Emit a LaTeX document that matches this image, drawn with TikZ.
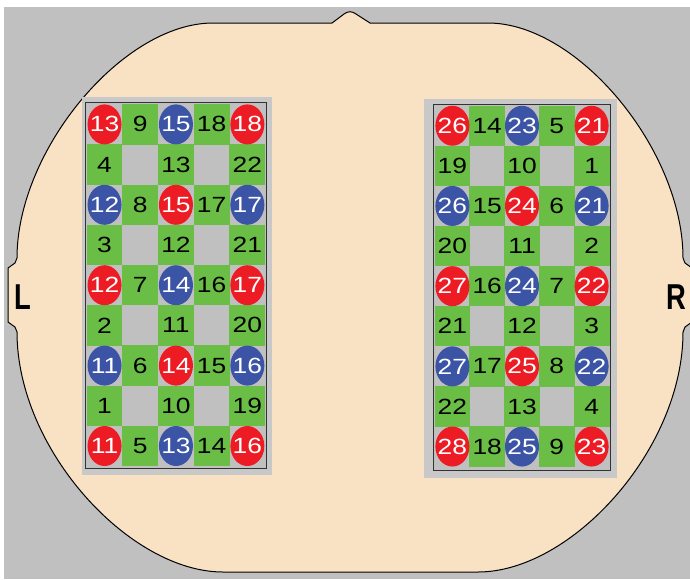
\documentclass[tikz,border=0pt]{standalone}
\usepackage{fontspec}
\setmainfont{Liberation Sans}
\newfontfamily\numfont{Liberation Sans}[FakeStretch=1.2]
\newfontfamily\earfont{Liberation Sans}[FakeStretch=0.76]
\usetikzlibrary{shapes.geometric}
\usepackage{xcolor}
\definecolor{headpeach}{HTML}{F9E1C4}
\definecolor{bggray}{HTML}{C0C0C0}
\definecolor{traygray}{HTML}{C8C8C8}
\definecolor{cellgreen}{HTML}{6BBE45}
\definecolor{ballred}{HTML}{ED1C24}
\definecolor{ballblue}{HTML}{3B54A5}
\tikzset{
  backdrop/.style={fill=bggray},
  head/.style={draw=black, fill=headpeach, line width=1pt},
  tray/.style={fill=traygray},
  tray inner/.style={draw=black!80, fill=bggray, line width=1pt},
  side label/.style={font=\earfont\bfseries\fontsize{36}{36}\selectfont, inner sep=0pt},
  base cell/.style={inner sep=0pt, font=\numfont\fontsize{22}{22}\selectfont},
  cell green/.style={base cell, minimum width=35.8pt, minimum height=40.3pt, fill=cellgreen, text=black},
  base ball/.style={base cell, ellipse, inner xsep=-4pt, minimum width=34pt, minimum height=40pt, text=white},
  ball red/.style={base ball, fill=ballred},
  ball blue/.style={base ball, fill=ballblue}
}

\begin{document}
\begin{tikzpicture}[x=1pt, y=-1pt]

  \useasboundingbox (0,0) rectangle (690,579);
  \fill[backdrop] (4,7) rectangle (690,579);

  % =================================================================================
  % HEAD OUTLINE (nose on top, ears left and right)
  % =================================================================================

  \draw[head] (213,23) -- (332,23) -- (344,14) .. controls (348,11) and (352,11) .. (356,14) -- (370,23)
    -- (488,23) .. controls (578,23) and (683,150) .. (683,258) -- (685,263) -- (692,268)
    -- (692,322) -- (685,327) -- (683,332) .. controls (683,450) and (571,572) .. (478,572)
    -- (223,572) .. controls (130,572) and (17,450) .. (17,332) -- (15,327) -- (8,322)
    -- (8,268) -- (15,263) -- (17,258) .. controls (17,150) and (123,23) .. (213,23) -- cycle;

  \node[side label] (ear-L) at (22.5,297) {L};
  \node[side label] (ear-R) at (676,297) {R};

  % =================================================================================
  % TRAYS
  % =================================================================================

  \fill[tray] (82,97) rectangle (272,475);
  \draw[tray inner] (85.5,102) rectangle (266.5,468);

  \fill[tray] (424,99) rectangle (617,478);
  \draw[tray inner] (433,104) rectangle (610.5,470.5);

  % =================================================================================
  % LEFT TRAY (columns 0..4, rows 0..8)
  % =================================================================================

  \begin{scope}[shift={(104.55,124.4)}, x=35.7pt, y=-40.2pt]
    % --- green squares ---
    \node[cell green] (L-1-2) at (1,0) {9};
    \node[cell green] (L-1-4) at (3,0) {18};
    \node[cell green] (L-2-1) at (0,1) {4};
    \node[cell green] (L-2-3) at (2,1) {13};
    \node[cell green] (L-2-5) at (4,1) {22};
    \node[cell green] (L-3-2) at (1,2) {8};
    \node[cell green] (L-3-4) at (3,2) {17};
    \node[cell green] (L-4-1) at (0,3) {3};
    \node[cell green] (L-4-3) at (2,3) {12};
    \node[cell green] (L-4-5) at (4,3) {21};
    \node[cell green] (L-5-2) at (1,4) {7};
    \node[cell green] (L-5-4) at (3,4) {16};
    \node[cell green] (L-6-1) at (0,5) {2};
    \node[cell green] (L-6-3) at (2,5) {11};
    \node[cell green] (L-6-5) at (4,5) {20};
    \node[cell green] (L-7-2) at (1,6) {6};
    \node[cell green] (L-7-4) at (3,6) {15};
    \node[cell green] (L-8-1) at (0,7) {1};
    \node[cell green] (L-8-3) at (2,7) {10};
    \node[cell green] (L-8-5) at (4,7) {19};
    \node[cell green] (L-9-2) at (1,8) {5};
    \node[cell green] (L-9-4) at (3,8) {14};

    % --- balls ---
    \node[ball red]  (L-1-1) at (0,0) {13};
    \node[ball blue] (L-1-3) at (2,0) {15};
    \node[ball red]  (L-1-5) at (4,0) {18};
    \node[ball blue] (L-3-1) at (0,2) {12};
    \node[ball red]  (L-3-3) at (2,2) {15};
    \node[ball blue] (L-3-5) at (4,2) {17};
    \node[ball red]  (L-5-1) at (0,4) {12};
    \node[ball blue] (L-5-3) at (2,4) {14};
    \node[ball red]  (L-5-5) at (4,4) {17};
    \node[ball blue] (L-7-1) at (0,6) {11};
    \node[ball red]  (L-7-3) at (2,6) {14};
    \node[ball blue] (L-7-5) at (4,6) {16};
    \node[ball red]  (L-9-1) at (0,8) {11};
    \node[ball blue] (L-9-3) at (2,8) {13};
    \node[ball red]  (L-9-5) at (4,8) {16};
  \end{scope}

  % =================================================================================
  % RIGHT TRAY (columns 0..4, rows 0..8)
  % =================================================================================

  \begin{scope}[shift={(452.4,125.75)}, x=34.8pt, y=-40.1pt]
    % --- green squares ---
    \node[cell green] (R-1-2) at (1,0) {14};
    \node[cell green] (R-1-4) at (3,0) {5};
    \node[cell green] (R-2-1) at (0,1) {19};
    \node[cell green] (R-2-3) at (2,1) {10};
    \node[cell green] (R-2-5) at (4,1) {1};
    \node[cell green] (R-3-2) at (1,2) {15};
    \node[cell green] (R-3-4) at (3,2) {6};
    \node[cell green] (R-4-1) at (0,3) {20};
    \node[cell green] (R-4-3) at (2,3) {11};
    \node[cell green] (R-4-5) at (4,3) {2};
    \node[cell green] (R-5-2) at (1,4) {16};
    \node[cell green] (R-5-4) at (3,4) {7};
    \node[cell green] (R-6-1) at (0,5) {21};
    \node[cell green] (R-6-3) at (2,5) {12};
    \node[cell green] (R-6-5) at (4,5) {3};
    \node[cell green] (R-7-2) at (1,6) {17};
    \node[cell green] (R-7-4) at (3,6) {8};
    \node[cell green] (R-8-1) at (0,7) {22};
    \node[cell green] (R-8-3) at (2,7) {13};
    \node[cell green] (R-8-5) at (4,7) {4};
    \node[cell green] (R-9-2) at (1,8) {18};
    \node[cell green] (R-9-4) at (3,8) {9};

    % --- balls ---
    \node[ball red]  (R-1-1) at (0,0) {26};
    \node[ball blue] (R-1-3) at (2,0) {23};
    \node[ball red]  (R-1-5) at (4,0) {21};
    \node[ball blue] (R-3-1) at (0,2) {26};
    \node[ball red]  (R-3-3) at (2,2) {24};
    \node[ball blue] (R-3-5) at (4,2) {21};
    \node[ball red]  (R-5-1) at (0,4) {27};
    \node[ball blue] (R-5-3) at (2,4) {24};
    \node[ball red]  (R-5-5) at (4,4) {22};
    \node[ball blue] (R-7-1) at (0,6) {27};
    \node[ball red]  (R-7-3) at (2,6) {25};
    \node[ball blue] (R-7-5) at (4,6) {22};
    \node[ball red]  (R-9-1) at (0,8) {28};
    \node[ball blue] (R-9-3) at (2,8) {25};
    \node[ball red]  (R-9-5) at (4,8) {23};
  \end{scope}

\end{tikzpicture}
\end{document}
